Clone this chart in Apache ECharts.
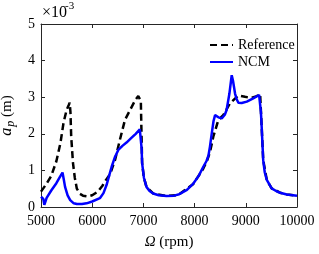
<!DOCTYPE html>
<html>
<head>
<meta charset="utf-8">
<script src="https://cdn.jsdelivr.net/npm/echarts@6/dist/echarts.min.js"></script>
<style>html,body{margin:0;padding:0;background:#fff;}#c{width:319px;height:254px;}</style>
</head>
<body>
<div id="c"></div>
<script>
// Values in units of 1e-3 m
const seriesNames = ['Reference', 'NCM'];
const xTicks = [5000, 6000, 7000, 8000, 9000, 10000];
const yTicks = [0, 1, 2, 3, 4, 5];

const referenceData = [
  [5000,0.42],[5100,0.62],[5200,0.85],[5300,1.25],[5380,1.75],[5440,2.3],[5500,2.65],[5540,2.78],[5560,2.85],
  [5575,2.6],[5590,1.92],[5625,1.2],[5660,0.8],[5700,0.5],[5760,0.36],[5820,0.31],[5920,0.29],[6000,0.32],
  [6110,0.42],[6200,0.58],[6270,0.74],[6350,0.9],[6445,1.28],[6540,1.83],[6640,2.38],[6740,2.65],[6840,2.92],
  [6900,3.03],[6930,3.0],[6950,2.9],[6960,2.2],[6975,1.2],[7010,0.8],[7060,0.55],[7190,0.37],[7450,0.3],
  [7680,0.33],[7975,0.63],[8170,1.05],[8240,1.25],[8300,1.5],[8365,1.92],[8465,2.38],[8560,2.51],[8690,2.83],
  [8855,3.05],[8985,3.01],[9100,2.98],[9200,3.02],[9280,3.08],[9310,2.19],[9340,1.28],[9410,0.74],[9505,0.51],
  [9670,0.39],[9800,0.34],[10000,0.31]
];

const ncmData = [
  [5000,0.28],[5025,0.31],[5045,0.22],[5065,0.06],[5085,0.14],[5110,0.25],[5200,0.45],[5300,0.65],[5370,0.82],
  [5420,0.94],[5445,0.75],[5470,0.55],[5520,0.32],[5570,0.19],[5640,0.1],[5700,0.08],[5800,0.08],[5890,0.1],
  [6000,0.15],[6150,0.24],[6220,0.38],[6280,0.6],[6330,0.85],[6380,1.1],[6440,1.35],[6510,1.56],[6590,1.67],
  [6670,1.76],[6760,1.88],[6850,2.0],[6930,2.12],[6955,2.15],[6965,1.6],[6975,1.2],[7010,0.8],[7060,0.55],
  [7120,0.44],[7190,0.37],[7300,0.32],[7450,0.3],[7600,0.31],[7700,0.35],[7850,0.47],[7975,0.64],[8080,0.85],
  [8170,1.1],[8230,1.25],[8270,1.4],[8300,1.65],[8335,2.01],[8370,2.35],[8400,2.51],[8430,2.5],[8465,2.45],
  [8530,2.42],[8590,2.52],[8625,2.65],[8680,3.1],[8725,3.6],[8750,3.45],[8790,3.1],[8820,2.95],[8855,2.85],
  [8920,2.84],[9020,2.88],[9145,2.97],[9260,3.06],[9280,3.1],[9295,2.6],[9310,2.19],[9340,1.28],[9370,0.95],
  [9410,0.74],[9505,0.51],[9600,0.43],[9670,0.39],[9800,0.34],[10000,0.31]
];

const axisColor = '#262626';
const font = 'Liberation Serif';

const chart = echarts.init(document.getElementById('c'), null, {renderer: 'canvas'});
const baseX = {
  type: 'value', min: xTicks[0], max: xTicks[xTicks.length-1], interval: 1000,
  axisLine: {show: true, onZero: false, lineStyle: {color: axisColor, width: 1}},
  axisTick: {show: true, inside: true, length: 4, lineStyle: {color: axisColor}},
  splitLine: {show: false}
};
const baseY = {
  type: 'value', min: yTicks[0], max: yTicks[yTicks.length-1], interval: 1,
  axisLine: {show: true, onZero: false, lineStyle: {color: axisColor, width: 1}},
  axisTick: {show: true, inside: true, length: 4, lineStyle: {color: axisColor}},
  splitLine: {show: false}
};
chart.setOption({
  animation: false,
  backgroundColor: '#fff',
  grid: {left: 41, right: 22, top: 24, bottom: 47, containLabel: false, outerBoundsMode: 'none'},
  legend: {
    orient: 'vertical', left: 204, top: 33, itemWidth: 23, itemHeight: 14, itemGap: 3,
    itemStyle: {opacity: 0},
    textStyle: {fontFamily: font, fontSize: 14, color: '#000'},
    data: seriesNames
  },
  xAxis: [
    Object.assign({}, baseX, {
      position: 'bottom',
      axisLabel: {show: true, margin: 7, fontFamily: font, fontSize: 14, color: '#000',
        formatter: function (v) { return String(v); }},
      name: '{o|Ω} (rpm)', nameLocation: 'middle', nameGap: 28,
      nameTextStyle: {fontFamily: font, fontSize: 15, color: '#000',
        rich: {o: {fontFamily: font, fontSize: 15, fontStyle: 'italic', color: '#000'}}}
    }),
    Object.assign({}, baseX, {position: 'top', axisLabel: {show: false}})
  ],
  yAxis: [
    Object.assign({}, baseY, {
      position: 'left',
      axisLabel: {show: true, margin: 6, fontFamily: font, fontSize: 14, color: '#000'},
      name: '{a|a}{p|p}{m| (m)}', nameLocation: 'middle', nameGap: 24, nameRotate: 90,
      nameTextStyle: {fontFamily: font, fontSize: 15, color: '#000',
        rich: {
          a: {fontFamily: font, fontSize: 16, fontStyle: 'italic', color: '#000', lineHeight: 20, verticalAlign: 'middle'},
          p: {fontFamily: font, fontSize: 12, fontStyle: 'italic', color: '#000', lineHeight: 20, padding: [8,0,0,1]},
          m: {fontFamily: font, fontSize: 15, color: '#000', lineHeight: 20, verticalAlign: 'middle'}
        }}
    }),
    Object.assign({}, baseY, {position: 'right', axisLabel: {show: false}})
  ],
  graphic: [
    {type: 'text', left: 42, top: 5,
     style: {text: '×10', font: '16px "Liberation Serif"', fill: '#000'}},
    {type: 'text', left: 65, top: 1,
     style: {text: '-3', font: '11px "Liberation Serif"', fill: '#000'}}
  ],
  series: [
    {name: seriesNames[0], type: 'line', data: referenceData, showSymbol: false, symbol: 'none',
     lineStyle: {color: '#000', width: 2.5, type: [7,4]}, itemStyle: {color: '#000'}, z: 2},
    {name: seriesNames[1], type: 'line', data: ncmData, showSymbol: false, symbol: 'none',
     lineStyle: {color: '#0000ff', width: 2.5}, itemStyle: {color: '#0000ff'}, z: 3}
  ]
});
</script>
</body>
</html>
